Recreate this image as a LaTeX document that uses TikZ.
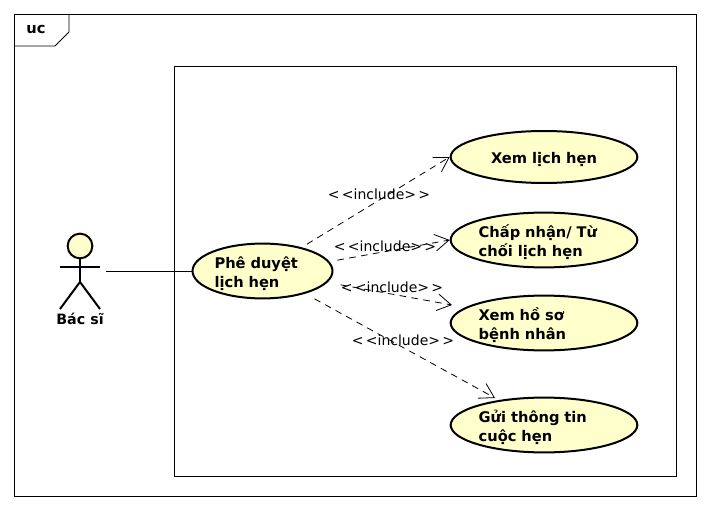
\documentclass[tikz,border=0pt]{standalone}
\usepackage{fontspec}
\setmainfont{DejaVu Sans}
\usetikzlibrary{positioning,arrows.meta,shapes.geometric}
\definecolor{ucfill}{HTML}{FFFFCC}
\tikzset{
    >={Straight Barb[length=10.5pt,width=12.5pt]},
    usecase/.style={draw=black,line width=1.5pt,fill=ucfill,ellipse,inner sep=0pt,
        minimum width=105pt,minimum height=39pt,font=\bfseries\fontsize{11}{14.25}\selectfont,align=left,
        execute at begin node={\rule{0pt}{12.5pt}}},
    limb/.style={black,line width=1.5pt},
    includeline/.style={->,black,line width=0.6pt,dash pattern=on 5pt off 4pt},
    includetext/.style={inner sep=0pt,font=\fontsize{10.5}{12}\selectfont},
    thinline/.style={black,line width=0.6pt}
}
\begin{document}
\begin{tikzpicture}[x=0.75pt,y=-0.75pt]
        \useasboundingbox (0,0) rectangle (709,509);
        % Frame
        \draw[thinline] (14,14) rectangle (696,496);
        \draw[thinline] (14,46)--(55,46)--(69,32)--(69,14);
        \node[inner sep=0pt,font=\bfseries\fontsize{11}{12}\selectfont] (frametag) at (36,30) {uc};
        \draw[thinline] (174,66) rectangle (676,476);
        % Actor
        \node[draw=black,line width=1.5pt,fill=ucfill,circle,inner sep=0pt,minimum size=18.5pt] (head) at (80,246) {};
        \coordinate (hip) at (80,282);
        \coordinate (armL) at (60,267);
        \coordinate (armR) at (100,267);
        \coordinate (footL) at (60,309);
        \coordinate (footR) at (100,309);
        \coordinate (hand) at (106,271);
        \draw[limb] (head.south)--(hip);
        \draw[limb] (armL)--(armR);
        \draw[limb] (footL)--(hip)--(footR);
        \node[inner sep=0pt,font=\bfseries\fontsize{10.7}{12}\selectfont] (actor) at (80,319) {Bác sĩ};
        % Use cases
        \node[usecase,text width=72pt,minimum width=105pt] (approve) at (262.5,271) {Phê duyệt\\lịch hẹn};
        \node[usecase,text width=98pt,align=center,minimum width=140pt] (schedule) at (544,157) {Xem lịch hẹn};
        \node[usecase,text width=98pt,minimum width=140pt] (accept) at (544,240) {Chấp nhận/ Từ\\chối lịch hẹn};
        \node[usecase,text width=98pt,minimum width=140pt] (record) at (544,323) {Xem hồ sơ\\bệnh nhân};
        \node[usecase,text width=98pt,minimum width=140pt] (notify) at (544,425) {Gửi thông tin\\cuộc hẹn};
        % Connectors
        \coordinate (recordtip) at (452,305);
        \coordinate (notifytip) at (495,398);
        \draw[thinline] (hand)--(approve.west);
        \draw[includeline,shorten <=4.5pt] (approve.31)--(schedule.west);
        \draw[includeline,shorten <=6pt] (approve.8)--(accept.west);
        \draw[includeline,shorten <=10pt] (approve.-10)--(recordtip);
        \draw[includeline,shorten <=8pt] (approve.-28)--(notifytip);
        % Stereotypes
        \node[includetext] (inc1) at (379,194) {<\,<include>\,>};
        \node[includetext] (inc2) at (385,246) {<\,<include>\,>};
        \node[includetext] (inc3) at (392,287) {<\,<include>\,>};
        \node[includetext] (inc4) at (403,340) {<\,<include>\,>};
\end{tikzpicture}
\end{document}
